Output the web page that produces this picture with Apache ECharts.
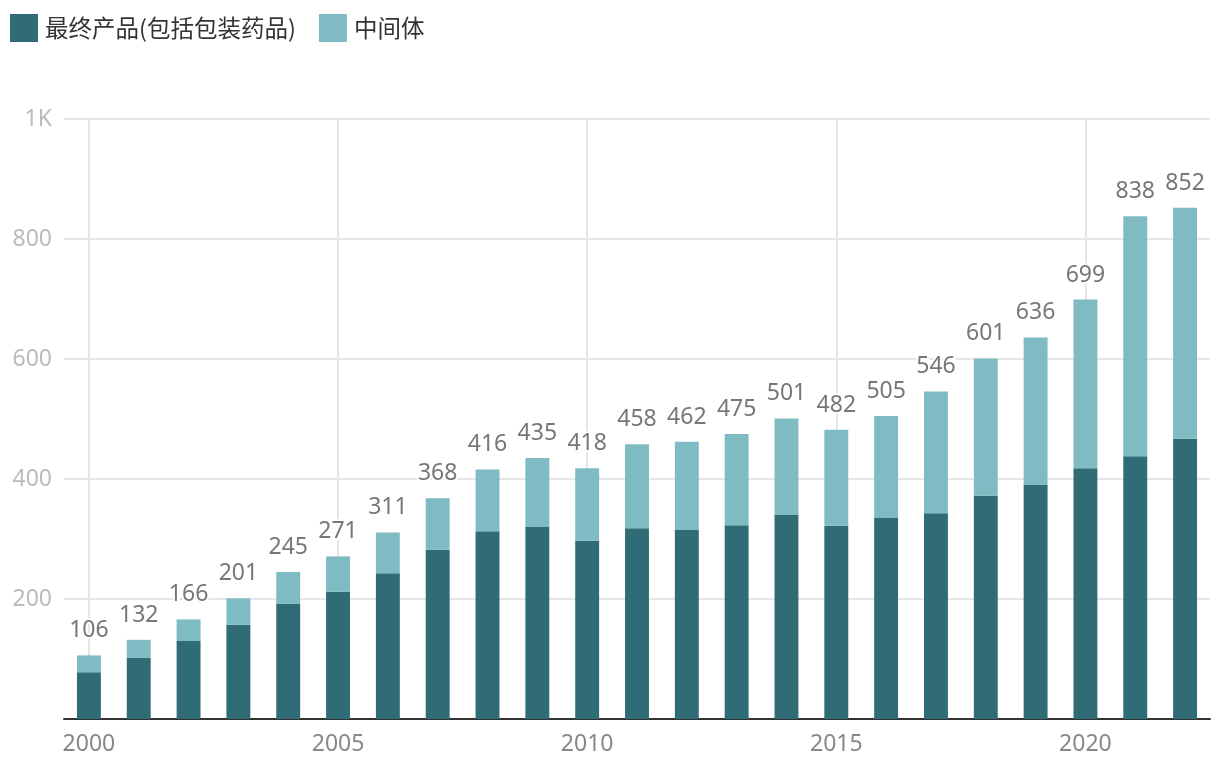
<!DOCTYPE html>
<html>
<head>
<meta charset="utf-8">
<script src="https://cdn.jsdelivr.net/npm/echarts@6/dist/echarts.min.js"></script>
<style>
  html, body { margin: 0; padding: 0; background: #fff; }
  #chart { width: 1220px; height: 778px; }
</style>
</head>
<body>
<div id="chart"></div>
<script>
const years = ['2000', '2001', '2002', '2003', '2004', '2005', '2006', '2007', '2008', '2009', '2010',
  '2011', '2012', '2013', '2014', '2015', '2016', '2017', '2018', '2019', '2020', '2021', '2022'];
const finalProducts = [78, 102, 130, 157, 192, 212, 243, 282, 313, 320, 297,
  318, 315, 323, 340, 322, 335, 343, 372, 390, 418, 438, 467];
const intermediates = [28, 30, 36, 44, 53, 59, 68, 86, 103, 115, 121,
  140, 147, 152, 161, 160, 170, 203, 229, 246, 281, 400, 385];
const totals = [106, 132, 166, 201, 245, 271, 311, 368, 416, 435, 418,
  458, 462, 475, 501, 482, 505, 546, 601, 636, 699, 838, 852];

const FONT = '"Noto Sans CJK SC", "Noto Sans", sans-serif';
const NUM_FONT = '"Noto Sans", "Noto Sans CJK SC", sans-serif';

const chart = echarts.init(document.getElementById('chart'));
chart.setOption({
  animation: false,
  textStyle: { fontFamily: FONT },
  legend: {
    left: 10,
    top: 14,
    padding: 0,
    itemWidth: 28,
    itemHeight: 28,
    itemGap: 23,
    icon: 'rect',
    textStyle: { fontSize: 23.5, color: '#333', padding: [0, 0, 0, 2] },
    data: ['最终产品(包括包装药品)', '中间体']
  },
  grid: { left: 64, right: 10, top: 119, bottom: 59 },
  xAxis: {
    type: 'category',
    data: years,
    axisLine: { lineStyle: { color: '#333', width: 2 } },
    axisTick: { show: false },
    axisLabel: { interval: 4, color: '#888', fontSize: 23, margin: 14, fontFamily: NUM_FONT },
    splitLine: {
      show: true,
      interval: 4,
      alignWithLabel: true,
      lineStyle: { color: '#e6e6e6', width: 2 }
    }
  },
  yAxis: {
    type: 'value',
    min: 0,
    max: 1000,
    interval: 200,
    axisLine: { show: false },
    axisTick: { show: false },
    axisLabel: {
      color: '#bbb',
      fontSize: 23,
      margin: 12,
      fontFamily: NUM_FONT,
      formatter: v => (v === 0 ? '' : v >= 1000 ? v / 1000 + 'K' : String(v))
    },
    splitLine: { lineStyle: { color: '#e6e6e6', width: 2 } }
  },
  series: [
    {
      name: '最终产品(包括包装药品)',
      type: 'bar',
      stack: 'total',
      barWidth: '48%',
      itemStyle: { color: '#2f6c75' },
      data: finalProducts
    },
    {
      name: '中间体',
      type: 'bar',
      stack: 'total',
      barWidth: '48%',
      itemStyle: { color: '#7fbbc2' },
      label: {
        show: true,
        position: 'top',
        distance: 13,
        fontSize: 23,
        fontFamily: NUM_FONT,
        color: '#777',
        textBorderColor: '#fff',
        textBorderWidth: 4,
        formatter: p => String(totals[p.dataIndex])
      },
      data: intermediates
    }
  ]
});
</script>
</body>
</html>
